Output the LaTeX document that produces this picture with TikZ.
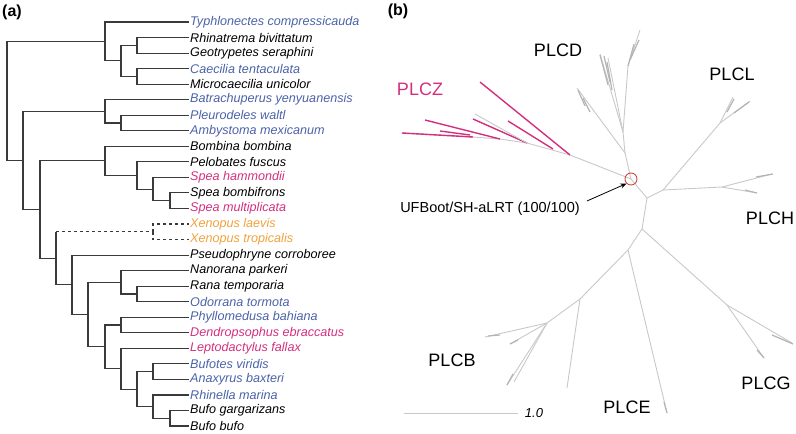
\documentclass[tikz,border=0pt]{standalone}
\usepackage{fontspec}
\setmainfont{Liberation Sans}
\usetikzlibrary{arrows.meta}

\definecolor{spblue}{HTML}{4A62A8}
\definecolor{spmag}{HTML}{D42F7F}
\definecolor{sporange}{HTML}{EFA23C}
\definecolor{brgray}{HTML}{C8C8C8}
\definecolor{fangray}{HTML}{B4B4B4}
\definecolor{lnk}{HTML}{3A3A3A}
\definecolor{hubred}{HTML}{D04A44}

\tikzset{
  tip/.style={anchor=west, inner sep=1pt, font=\fontsize{12.6}{14}\selectfont\itshape},
  br/.style={draw=lnk, line width=1.1pt},
  ub/.style={draw=brgray, line width=0.9pt},
  fan/.style={draw=fangray, line width=1.2pt},
  zb/.style={draw=spmag, line width=1.4pt},
  clade/.style={inner sep=0pt, font=\fontsize{18}{20}\selectfont},
  panel/.style={inner sep=0pt, font=\fontsize{16}{18}\selectfont\bfseries}
}

\begin{document}
\begin{tikzpicture}[x=1pt, y=-1pt]
  \useasboundingbox (0,0) rectangle (796,434);

  \node[panel] (pa) at (12,12) {(a)};
  \node[panel] (pb) at (398,11) {(b)};

  % species names
  \node[tip, text=spblue] (typ) at (189,22.00) {Typhlonectes compressicauda};
  \node[tip] (rhi) at (189,37.54) {Rhinatrema bivittatum};
  \node[tip] (geo) at (189,53.08) {Geotrypetes seraphini};
  \node[tip, text=spblue] (cec) at (189,68.62) {Caecilia tentaculata};
  \node[tip] (mic) at (189,84.16) {Microcaecilia unicolor};
  \node[tip, text=spblue] (btr) at (189,99.70) {Batrachuperus yenyuanensis};
  \node[tip, text=spblue] (ple) at (189,115.24) {Pleurodeles waltl};
  \node[tip, text=spblue] (amb) at (189,130.78) {Ambystoma mexicanum};
  \node[tip] (bom) at (189,146.32) {Bombina bombina};
  \node[tip] (plb) at (189,161.86) {Pelobates fuscus};
  \node[tip, text=spmag] (sph) at (189,177.40) {Spea hammondii};
  \node[tip] (spb) at (189,192.94) {Spea bombifrons};
  \node[tip, text=spmag] (spm) at (189,208.48) {Spea multiplicata};
  \node[tip, text=sporange] (xla) at (189,224.02) {Xenopus laevis};
  \node[tip, text=sporange] (xtr) at (189,239.56) {Xenopus tropicalis};
  \node[tip] (pse) at (189,255.10) {Pseudophryne corroboree};
  \node[tip] (nan) at (189,270.64) {Nanorana parkeri};
  \node[tip] (rte) at (189,286.18) {Rana temporaria};
  \node[tip, text=spblue] (odo) at (189,301.72) {Odorrana tormota};
  \node[tip, text=spblue] (phy) at (189,317.26) {Phyllomedusa bahiana};
  \node[tip, text=spmag] (den) at (189,332.80) {Dendropsophus ebraccatus};
  \node[tip, text=spmag] (lep) at (189,348.34) {Leptodactylus fallax};
  \node[tip, text=spblue] (bvi) at (189,363.88) {Bufotes viridis};
  \node[tip, text=spblue] (anx) at (189,379.42) {Anaxyrus baxteri};
  \node[tip, text=spblue] (rhm) at (189,394.96) {Rhinella marina};
  \node[tip] (bga) at (189,410.50) {Bufo gargarizans};
  \node[tip] (bbu) at (189,426.04) {Bufo bufo};

  % internal nodes
  \coordinate (root) at (7,100.96);
  \coordinate (cae) at (105,41.43);
  \coordinate (cae2) at (121,60.85);
  \coordinate (cae3) at (137,45.31);
  \coordinate (cae4) at (137,76.39);
  \coordinate (bat) at (23,160.49);
  \coordinate (sal) at (105,111.36);
  \coordinate (sal2) at (121,123.01);
  \coordinate (anu) at (40,209.61);
  \coordinate (pel) at (105,160.89);
  \coordinate (pel2) at (137,175.46);
  \coordinate (spe) at (153,189.06);
  \coordinate (spe2) at (170,200.71);
  \coordinate (anu2) at (56,258.32);
  \coordinate (xen) at (153,231.79);
  \coordinate (neo) at (72,284.85);
  \coordinate (neo2) at (88,314.60);
  \coordinate (ran) at (121,282.30);
  \coordinate (ran2) at (137,293.95);
  \coordinate (hyl) at (105,346.89);
  \coordinate (hyl2) at (121,325.03);
  \coordinate (hyl3) at (121,368.74);
  \coordinate (buf) at (137,389.14);
  \coordinate (buf2) at (153,371.65);
  \coordinate (buf3) at (153,406.62);
  \coordinate (buf4) at (170,418.27);

  % branches
  \draw[br] (root) |- (cae);
  \draw[br] (root) |- (bat);
  \draw[br] (cae) |- (typ.west);
  \draw[br] (cae) |- (cae2);
  \draw[br] (cae2) |- (cae3);
  \draw[br] (cae2) |- (cae4);
  \draw[br] (cae3) |- (rhi.west);
  \draw[br] (cae3) |- (geo.west);
  \draw[br] (cae4) |- (cec.west);
  \draw[br] (cae4) |- (mic.west);
  \draw[br] (bat) |- (sal);
  \draw[br] (bat) |- (anu);
  \draw[br] (sal) |- (btr.west);
  \draw[br] (sal) |- (sal2);
  \draw[br] (sal2) |- (ple.west);
  \draw[br] (sal2) |- (amb.west);
  \draw[br] (anu) |- (pel);
  \draw[br] (anu) |- (anu2);
  \draw[br] (pel) |- (bom.west);
  \draw[br] (pel) |- (pel2);
  \draw[br] (pel2) |- (plb.west);
  \draw[br] (pel2) |- (spe);
  \draw[br] (spe) |- (sph.west);
  \draw[br] (spe) |- (spe2);
  \draw[br] (spe2) |- (spb.west);
  \draw[br] (spe2) |- (spm.west);
  \draw[br] (anu2) -- (anu2 |- xen);
  \draw[br, dashed] (anu2 |- xen) -- (xen);
  \draw[br, dashed] (xen) |- (xla.west);
  \draw[br, dashed] (xen) |- (xtr.west);
  \draw[br] (anu2) |- (neo);
  \draw[br] (neo) |- (pse.west);
  \draw[br] (neo) |- (neo2);
  \draw[br] (neo2) |- (ran);
  \draw[br] (neo2) |- (hyl);
  \draw[br] (ran) |- (nan.west);
  \draw[br] (ran) |- (ran2);
  \draw[br] (ran2) |- (rte.west);
  \draw[br] (ran2) |- (odo.west);
  \draw[br] (hyl) |- (hyl2);
  \draw[br] (hyl) |- (hyl3);
  \draw[br] (hyl2) |- (phy.west);
  \draw[br] (hyl2) |- (den.west);
  \draw[br] (hyl3) |- (lep.west);
  \draw[br] (hyl3) |- (buf);
  \draw[br] (buf) |- (buf2);
  \draw[br] (buf) |- (buf3);
  \draw[br] (buf2) |- (bvi.west);
  \draw[br] (buf2) |- (anx.west);
  \draw[br] (buf3) |- (rhm.west);
  \draw[br] (buf3) |- (buf4);
  \draw[br] (buf4) |- (bga.west);
  \draw[br] (buf4) |- (bbu.west);

  % unrooted tree, panel (b)
  \coordinate (uA) at (631,179);
  \coordinate (uB) at (647,198);
  \coordinate (uC) at (642,229);
  \coordinate (uD) at (628,250);
  \coordinate (uE) at (580,299);
  \coordinate (uF) at (547,323);
  \coordinate (uH) at (663,190);
  \coordinate (uL) at (720,123);
  \coordinate (uK) at (722,187);
  \coordinate (uG) at (727,305);
  \coordinate (uZ) at (570,155);
  \coordinate (uP) at (625,153);
  \coordinate (uQ) at (623,132);
  \coordinate (uR) at (628,66);

  \draw[ub] (uA) -- (uB) -- (uC) -- (uD) -- (uE) -- (uF) -- (485,337);
  \draw[ub] (uB) -- (uH) -- (uL) -- (733,97);
  \draw[ub] (uL) -- (750,101);
  \draw[fan] (727,112) -- (734,99);
  \draw[fan] (734,113) -- (749,102);
  \draw[ub] (uH) -- (uK) -- (772,174);
  \draw[ub] (uK) -- (757,193);
  \draw[fan] (756,177) -- (773,174);
  \draw[fan] (745,190) -- (757,193);
  \draw[ub] (uC) -- (uG) -- (792,343);
  \draw[ub] (uG) -- (764,358);
  \draw[fan] (772,335) -- (793,344);
  \draw[fan] (757,350) -- (764,358);
  \draw[ub] (uD) -- (667,413);
  \draw[fan] (664,402) -- (667,413);
  \draw[ub] (uE) -- (567,388);
  \draw[ub] (uF) -- (510,344);
  \draw[ub] (uF) -- (507,385);
  \draw[ub] (uF) -- (514,382);
  \draw[fan] (488,336) -- (500,335);
  \draw[fan] (510,344) -- (518,340);
  \draw[fan] (507,385) -- (513,374);
  % PLCD
  \draw[ub] (uA) -- (uP) -- (uQ) -- (uR) -- (640,30);
  \draw[ub] (uP) -- (577,88);
  \draw[fan] (585,106) -- (578,90);
  \draw[fan] (590,112) -- (583,98);
  \draw[ub] (uQ) -- (600,54);
  \draw[fan] (608,85) -- (600,55);
  \draw[fan] (610,82) -- (604,56);
  \draw[fan] (612,90) -- (607,62);
  \draw[ub] (uQ) -- (608,58);
  \draw[fan] (uR) -- (634,44);
  \draw[fan] (630,60) -- (639,40);
  % PLCZ
  \draw[ub] (uA) -- (uZ) -- (527,143) -- (500,139) -- (473,137) -- (402,133);
  \draw[zb] (uZ) -- (480,82);
  \draw[zb] (553,149) -- (508,121);
  \draw[zb] (527,143) -- (473,119);
  \draw[ub] (527,143) -- (475,114);
  \draw[zb] (500,139) -- (425,120);
  \draw[zb] (473,137) -- (402,133);
  \draw[zb] (470,135) -- (440,131);

  \node[circle, draw=hubred, line width=0.9pt, minimum size=12pt, inner sep=0pt] (hub) at (uA) {};

  % clade names
  \node[clade] (plcd) at (558,50) {PLCD};
  \node[clade] (plcl) at (732,74) {PLCL};
  \node[clade, text=spmag] (plcz) at (420,89) {PLCZ};
  \node[clade] (plch) at (770,218) {PLCH};
  \node[clade] (plcb) at (452,360) {PLCB};
  \node[clade] (plce) at (627,407) {PLCE};
  \node[clade] (plcg) at (766,383) {PLCG};

  \node[inner sep=0pt, font=\fontsize{14.5}{16}\selectfont] (ufb) at (490,209) {UFBoot/SH-aLRT (100/100)};
  \draw[-{Stealth[length=6pt,width=5pt]}, line width=0.8pt] ([shift={(7,-8)}]ufb.east) -- (hub.225);

  % scale bar
  \coordinate (sb0) at (404,413);
  \coordinate (sb1) at (518,413);
  \node[inner sep=0pt, font=\fontsize{13}{15}\selectfont\itshape] (sbl) at (534,413) {1.0};
  \draw[ub] (sb0) -- (sb1);
\end{tikzpicture}
\end{document}
